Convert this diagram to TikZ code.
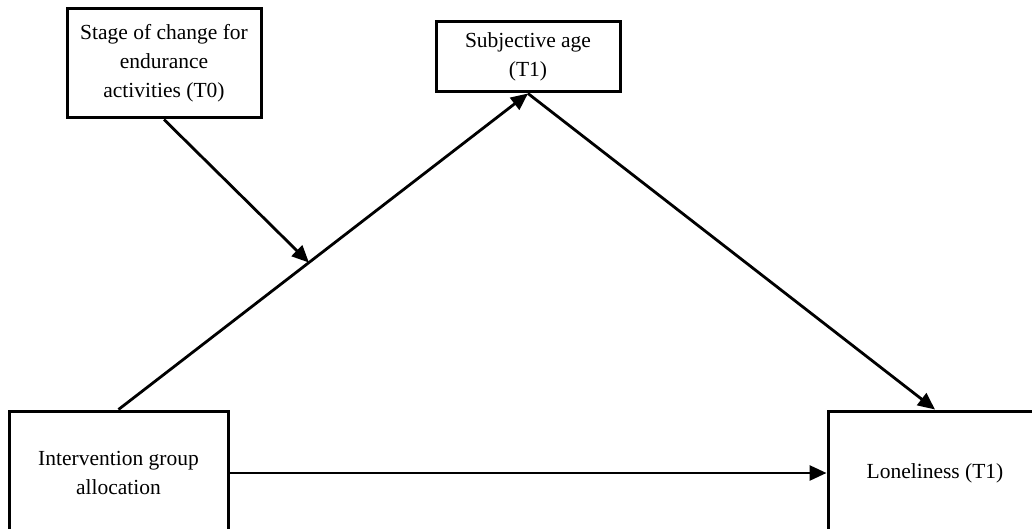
\documentclass[tikz,border=0pt]{standalone}
\usepackage{fontspec}
\setmainfont{Liberation Serif}
\usetikzlibrary{arrows.meta,calc}
\tikzset{
  box/.style={draw=black, line width=3pt, rectangle, align=center, inner sep=0pt,
    font=\fontsize{21.5}{29}\selectfont},
  conn/.style={line width=2.8pt, -{Triangle[length=17pt,width=15pt]}},
}
\begin{document}
\begin{tikzpicture}[x=1pt,y=-1pt]
\useasboundingbox (0,0) rectangle (1032,529);
\clip (0,0) rectangle (1032,529);
\fill[white] (0,0) rectangle (1032,529);
\node[box, minimum width=194pt, minimum height=109pt] (stage) at (164,63.5)
  {Stage of change for\\endurance\\activities (T0)};
\node[box, minimum width=184pt, minimum height=70pt] (subj) at (528,57)
  {Subjective age\\(T1)};
\node[box, minimum width=219pt, minimum height=124pt] (interv) at (118.5,473)
  {Intervention group\\allocation};
\node[box, minimum width=214pt, minimum height=124pt] (lonely) at (935,473)
  {Loneliness (T1)};
\draw[conn] (interv.north) -- (subj.south);
\draw[conn] (subj.south) -- (lonely.north);
\draw[conn] (interv.east) -- (lonely.west);
\coordinate (mod) at ($(interv.north)!0.465!(subj.south)$);
\draw[conn] (stage.south) -- (mod);
\end{tikzpicture}
\end{document}
